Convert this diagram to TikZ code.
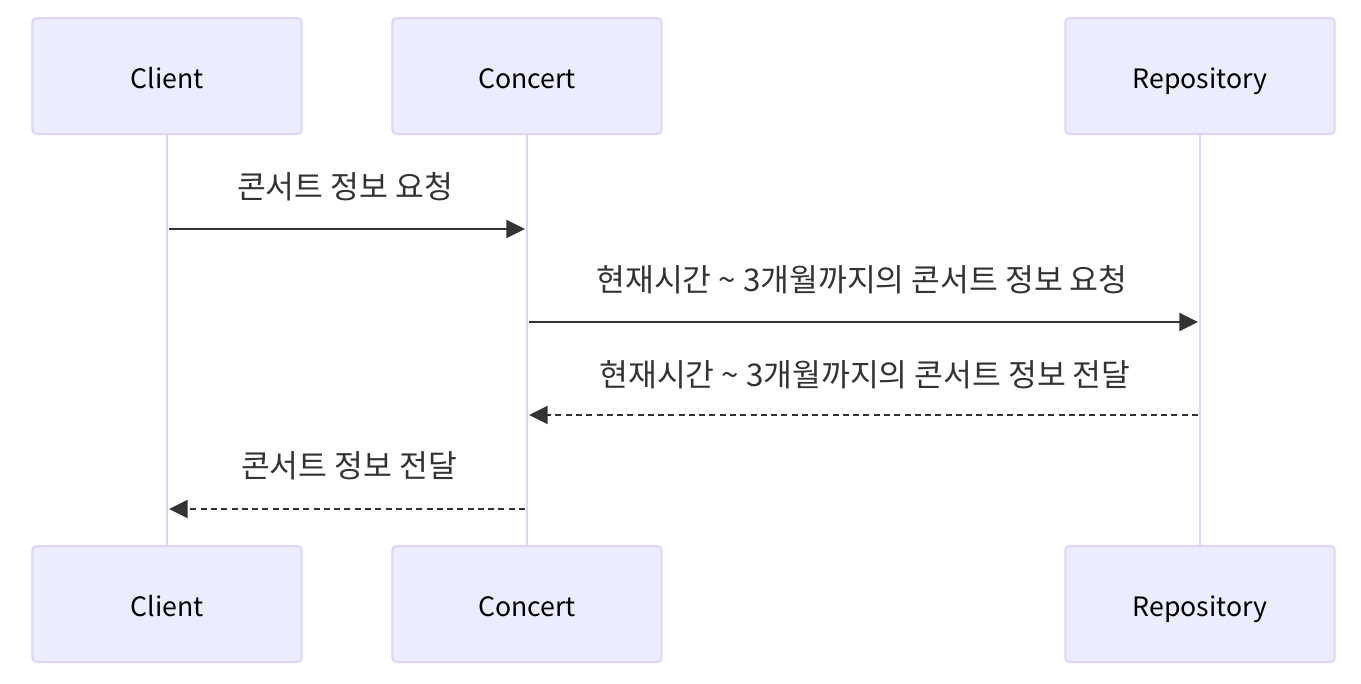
\documentclass[tikz,border=0pt]{standalone}
\usepackage{fontspec}
\setmainfont{Noto Sans CJK KR}
\usetikzlibrary{arrows.meta}
\definecolor{actorfill}{HTML}{ECECFF}
\definecolor{actorline}{HTML}{DDD4F7}
\definecolor{msgline}{HTML}{333333}
\tikzset{
  actor/.style={draw=actorline,fill=actorfill,line width=1.5pt,rounded corners=3pt,
    minimum width=202pt,minimum height=87pt,inner sep=0pt,text height=24pt,text depth=5pt,
    font=\fontsize{20}{24}\selectfont},
  lifeline/.style={draw=actorline,line width=2pt},
  msg/.style={draw=msgline,line width=1.6pt,-{Triangle[length=14pt,width=13.5pt]}},
  reply/.style={msg,dash pattern=on 4.5pt off 3.2pt},
  msglabel/.style={font=\fontsize{23.5}{28}\selectfont,text=msgline}
}
\begin{document}
\begin{tikzpicture}[x=0.75pt,y=-0.75pt,line join=round]
  \useasboundingbox (0,0) rectangle (1361,683);
  % lifelines
  \foreach \n/\x in {client/167,concert/527,repo/1200}{
    \coordinate (\n-top) at (\x,134);
    \coordinate (\n-bot) at (\x,546);
    \draw[lifeline] (\n-top)--(\n-bot);
  }
  % actors
  \foreach \n/\x/\t in {client/167/Client,concert/527/Concert,repo/1200/Repository}{
    \node[actor] (\n-head) at (\x,76) {\t};
    \node[actor] (\n-foot) at (\x,604) {\t};
  }
  % messages
  \coordinate (m1s) at (169,229); \coordinate (m1e) at (525,229);
  \coordinate (m2s) at (529,322); \coordinate (m2e) at (1198,322);
  \coordinate (m3s) at (1198,415); \coordinate (m3e) at (529,415);
  \coordinate (m4s) at (525,509); \coordinate (m4e) at (169,509);
  \draw[msg] (m1s)--(m1e);
  \draw[msg] (m2s)--(m2e);
  \draw[reply] (m3s)--(m3e);
  \draw[reply] (m4s)--(m4e);
  \node[msglabel] (l1) at (345,187) {콘서트 정보 요청};
  \node[msglabel] (l2) at (862,280) {현재시간 \textasciitilde{} 3개월까지의 콘서트 정보 요청};
  \node[msglabel] (l3) at (865,375) {현재시간 \textasciitilde{} 3개월까지의 콘서트 정보 전달};
  \node[msglabel] (l4) at (349,466) {콘서트 정보 전달};
\end{tikzpicture}
\end{document}
